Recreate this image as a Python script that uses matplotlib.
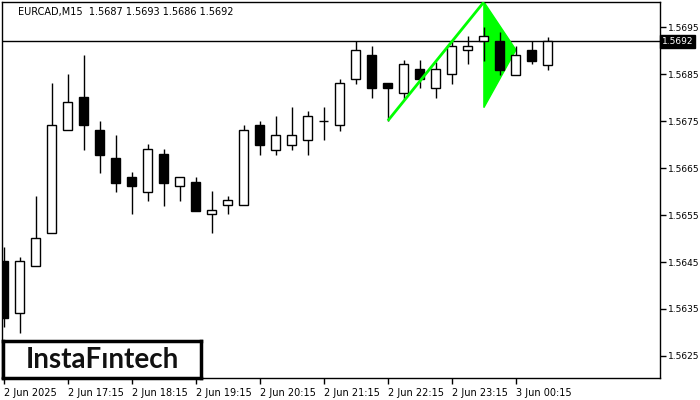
import matplotlib
matplotlib.use("Agg")
import matplotlib.pyplot as plt
from matplotlib.patches import Polygon, Rectangle

# OHLC data (EURCAD M15)
opens = [1.56452, 1.56341, 1.56441, 1.56511, 1.56731, 1.56802, 1.56731, 1.56672, 1.56631, 1.56600,
         1.56680, 1.56611, 1.56621, 1.56552, 1.56571, 1.56571, 1.56742, 1.56689, 1.56700, 1.56711,
         1.56751, 1.56741, 1.56839, 1.56891, 1.56831, 1.56810, 1.56861, 1.56820, 1.56850, 1.56901,
         1.56921, 1.56921, 1.56849, 1.56902, 1.56870]
highs = [1.56483, 1.56461, 1.56591, 1.56832, 1.56851, 1.56891, 1.56751, 1.56721, 1.56642, 1.56702,
         1.56691, 1.56631, 1.56631, 1.56601, 1.56591, 1.56742, 1.56751, 1.56761, 1.56780, 1.56772,
         1.56780, 1.56840, 1.56920, 1.56911, 1.56831, 1.56880, 1.56880, 1.56876, 1.56923, 1.56932,
         1.56951, 1.56940, 1.56911, 1.56921, 1.56930]
lows = [1.56312, 1.56299, 1.56441, 1.56511, 1.56731, 1.56689, 1.56640, 1.56599, 1.56552, 1.56581,
        1.56570, 1.56581, 1.56559, 1.56511, 1.56552, 1.56571, 1.56679, 1.56679, 1.56689, 1.56679,
        1.56711, 1.56730, 1.56830, 1.56800, 1.56751, 1.56797, 1.56820, 1.56800, 1.56830, 1.56872,
        1.56879, 1.56849, 1.56849, 1.56871, 1.56860]
closes = [1.56331, 1.56452, 1.56501, 1.56742, 1.56791, 1.56741, 1.56679, 1.56619, 1.56611, 1.56691,
          1.56619, 1.56631, 1.56559, 1.56561, 1.56582, 1.56731, 1.56700, 1.56721, 1.56721, 1.56761,
          1.56751, 1.56832, 1.56902, 1.56820, 1.56820, 1.56872, 1.56839, 1.56861, 1.56911, 1.56911,
          1.56932, 1.56860, 1.56891, 1.56879, 1.56920]

current_price = 1.5692
title_text = "EURCAD,M15  1.5687 1.5693 1.5686 1.5692"

# Pattern (pennant) geometry in candle index / price
pole_x = [24, 30]
pole_y = [1.56751, 1.57004]
flag_x = [30, 30, 32]
flag_y = [1.57004, 1.56779, 1.56902]

xtick_pos = [0, 4, 8, 12, 16, 20, 24, 28, 32]
xtick_labels = ["2 Jun 2025", "2 Jun 17:15", "2 Jun 18:15", "2 Jun 19:15", "2 Jun 20:15",
                "2 Jun 21:15", "2 Jun 22:15", "2 Jun 23:15", "3 Jun 00:15"]
ytick_vals = [1.5625, 1.5635, 1.5645, 1.5655, 1.5665, 1.5675, 1.5685, 1.5695]

fig = plt.figure(figsize=(7, 4), dpi=100)
ax = fig.add_axes([2 / 700, 22 / 400, 658 / 700, 376 / 400])
ax.set_xlim(-0.1, 41.0)
ax.set_ylim(1.56203, 1.57004)

w = 0.56
for i, (o, h, l, c) in enumerate(zip(opens, highs, lows, closes)):
    top, bot = max(o, c), min(o, c)
    if h > top:
        ax.vlines(i, top, h, color="black", lw=1, zorder=3)
    if l < bot:
        ax.vlines(i, l, bot, color="black", lw=1, zorder=3)
    if abs(c - o) < 1e-6:
        ax.hlines(o, i - w / 2, i + w / 2, color="black", lw=1, zorder=4)
    else:
        fc = "white" if c > o else "black"
        ax.add_patch(Rectangle((i - w / 2, bot), w, top - bot, facecolor=fc,
                               edgecolor="black", lw=1, zorder=4))

# current price line
ax.axhline(current_price, color="black", lw=1, zorder=1)

# pennant
ax.add_patch(Polygon(list(zip(flag_x, flag_y)), closed=True, facecolor="#00FF00",
                     edgecolor="#00FF00", lw=1, zorder=2))
ax.plot(pole_x, pole_y, color="#00FF00", lw=2, zorder=5, solid_capstyle="butt")

# axes styling
ax.yaxis.tick_right()
ax.set_yticks(ytick_vals)
ax.set_yticklabels([f"{v:.4f}" for v in ytick_vals], fontsize=6.5)
ax.set_xticks(xtick_pos)
ax.set_xticklabels(xtick_labels, fontsize=7, ha="left")
ax.tick_params(axis="both", length=4, width=1, color="black", pad=2)
ax.tick_params(axis="x", pad=3)
ax.tick_params(axis="y", pad=1.5)
for s in ax.spines.values():
    s.set_linewidth(1)
    s.set_color("black")

# price label box
ax.text(1.003, current_price, f"{current_price:.4f}", transform=ax.get_yaxis_transform(),
        fontsize=6.5, color="white", va="center", ha="left",
        bbox=dict(boxstyle="square,pad=0.2", facecolor="black", edgecolor="black"))

# title
fig.text(18 / 700, 1 - 12 / 400, title_text, fontsize=7, va="center", ha="left")

# logo
logo_ax = fig.add_axes([3 / 700, 22 / 400, 198 / 700, 37 / 400])
logo_ax.set_xticks([])
logo_ax.set_yticks([])
for s in logo_ax.spines.values():
    s.set_linewidth(2.5)
    s.set_color("black")
logo_ax.text(0.5, 0.5, "InstaF\u0131ntech", fontsize=20, family="Lato", weight="bold",
             ha="center", va="center", color="#111111")

fig.savefig("out.png", dpi=100)
